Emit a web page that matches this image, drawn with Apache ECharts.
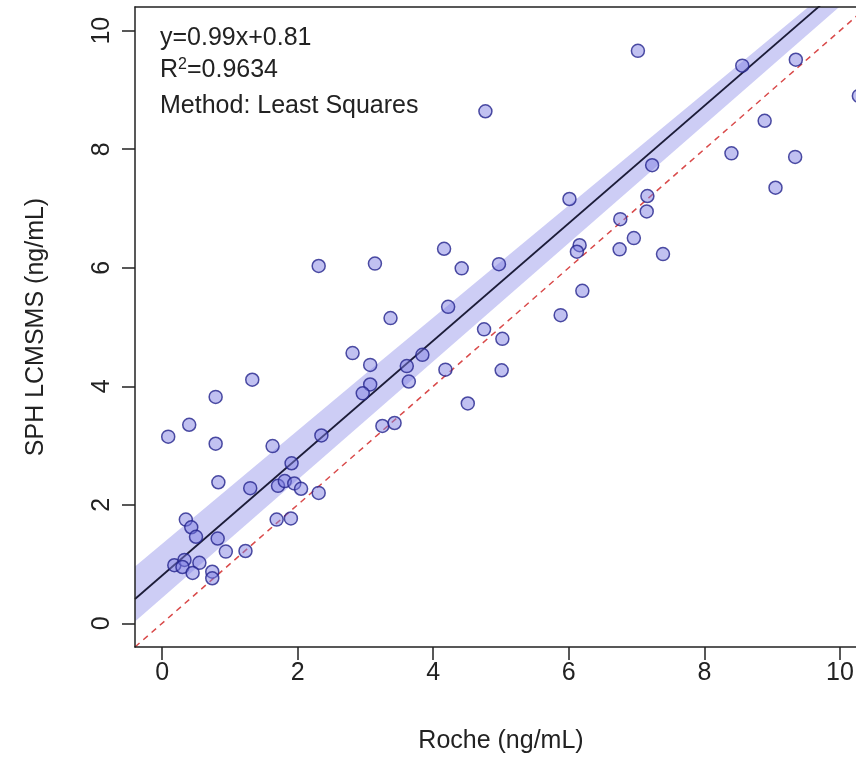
<!DOCTYPE html>
<html><head><meta charset="utf-8">
<script src="https://cdn.jsdelivr.net/npm/echarts@6/dist/echarts.min.js"></script>
<style>html,body{margin:0;padding:0;background:#fff;overflow:hidden}#c{width:856px;height:772px}</style>
</head><body><div id="c"></div>
<script>
const rocheX = [0.09,0.40,0.79,1.33,0.79,1.63,2.35,1.91,0.83,1.30,1.71,1.81,1.95,2.05,2.31,1.69,1.90,0.35,0.43,0.50,0.82,0.94,1.23,0.18,0.33,0.30,0.55,0.45,0.74,0.74,
  2.31,3.14,3.37,2.81,3.07,3.07,2.96,3.61,3.84,3.64,3.25,3.43,
  4.16,4.42,4.97,4.22,4.75,5.02,4.18,5.01,4.51,
  5.88,6.20,6.16,6.12,6.96,6.75,7.39,6.76,7.15,7.16,6.01,7.23,
  4.77,7.02,8.56,9.35,8.89,8.40,9.34,9.05,10.28];
const lcmsY = [3.15,3.35,3.82,4.11,3.03,2.99,3.17,2.70,2.38,2.28,2.32,2.40,2.36,2.27,2.20,1.75,1.77,1.75,1.62,1.46,1.43,1.21,1.22,0.98,1.07,0.95,1.02,0.85,0.87,0.76,
  6.03,6.07,5.15,4.56,4.36,4.03,3.88,4.34,4.53,4.08,3.33,3.38,
  6.32,5.99,6.06,5.34,4.96,4.80,4.28,4.27,3.71,
  5.20,5.61,6.38,6.27,6.50,6.31,6.23,6.82,6.95,7.21,7.16,7.73,
  8.64,9.66,9.41,9.51,8.48,7.93,7.87,7.35,8.90];
const xTicks = [0,2,4,6,8,10];
const yTicks = [0,2,4,6,8,10];
const axisRange = [-0.4, 10.4];
const fitX = [-0.4, 10.4];
const fitY = [0.41, 11.11];
const identX = [-0.4, 10.4];
const identY = [-0.4, 10.4];
const bandX = [-0.4, 3.2, 10.4];
const bandLo = [0.03, 3.62, 10.81];
const bandHi = [0.96, 4.40, 11.22];
const eqText = 'y=0.99x+0.81';
const r2Value = '=0.9634';
const methodText = 'Method: Least Squares';
const xName = 'Roche (ng/mL)';
const yName = 'SPH LCMSMS (ng/mL)';

const FONT = "'Liberation Sans', Arial, sans-serif";
const FS = 25;
const chart = echarts.init(document.getElementById('c'), null, {renderer:'canvas'});
const pts = rocheX.map((x,i)=>[x, lcmsY[i]]);
const lineSt = {color:'#222', width:1.5};
const option = {
  animation:false,
  backgroundColor:'#fff',
  grid:{left:135, top:7, width:732, height:640, containLabel:false, outerBoundsMode:'none', show:false},
  xAxis:[{type:'value', min:axisRange[0], max:axisRange[1], position:'bottom', z:10,
    splitLine:{show:false}, axisLine:{show:true, onZero:false, lineStyle:lineSt},
    axisTick:{show:true, inside:false, length:13, customValues:xTicks, lineStyle:lineSt},
    axisLabel:{customValues:xTicks, margin:14, fontSize:FS, color:'#222', fontFamily:FONT},
    name:xName, nameLocation:'middle', nameGap:82, nameTextStyle:{fontSize:FS, color:'#222', fontFamily:FONT}},
    {type:'value', min:axisRange[0], max:axisRange[1], position:'top', z:10,
    splitLine:{show:false}, axisLine:{show:true, onZero:false, lineStyle:lineSt},
    axisTick:{show:false}, axisLabel:{show:false}}],
  yAxis:{type:'value', min:axisRange[0], max:axisRange[1], z:10,
    splitLine:{show:false}, axisLine:{show:true, onZero:false, lineStyle:lineSt},
    axisTick:{show:true, inside:false, length:13, customValues:yTicks, lineStyle:lineSt},
    axisLabel:{customValues:yTicks, rotate:90, margin:20, fontSize:FS, color:'#222', fontFamily:FONT},
    name:yName, nameLocation:'middle', nameGap:86, nameTextStyle:{fontSize:FS, color:'#222', fontFamily:FONT}},
  series:[
    {type:'custom', silent:true, z:1, data:[[bandX[0], bandLo[0]]],
      renderItem:function(params, api){
        const p = [];
        for (let i=0;i<bandX.length;i++) p.push(api.coord([bandX[i], bandHi[i]]));
        for (let i=bandX.length-1;i>=0;i--) p.push(api.coord([bandX[i], bandLo[i]]));
        const cs = params.coordSys;
        return {type:'polygon', shape:{points:p}, style:{fill:'#cdcdf5'},
          clipPath:{type:'rect', shape:{x:cs.x, y:cs.y, width:cs.width, height:cs.height}}};
      }},
    {type:'line', z:2, silent:true, symbol:'none', clip:true,
      data:identX.map((x,i)=>[x, identY[i]]),
      lineStyle:{color:'#d94a4a', width:1.5, type:[6,5]}},
    {type:'line', z:3, silent:true, symbol:'none', clip:true,
      data:fitX.map((x,i)=>[x, fitY[i]]),
      lineStyle:{color:'#1c1c38', width:1.8}},
    {type:'scatter', z:4, clip:true, symbol:'circle', symbolSize:13, data:pts,
      itemStyle:{color:'rgba(125,125,225,0.6)', borderColor:'#23238c', borderWidth:1.5}}
  ],
  graphic:[
    {type:'text', left:160, top:26, z:20, style:{text:eqText, font:FS+'px '+FONT, fill:'#222'}},
    {type:'text', left:160, top:57, z:20, style:{text:'{a|R}{s|2}{a|'+r2Value+'}', fill:'#222',
      rich:{a:{fontSize:FS, fontFamily:FONT, color:'#222', verticalAlign:'bottom'}, s:{fontSize:16, fontFamily:FONT, color:'#222', verticalAlign:'top', padding:[0,0,10,0]}}}},
    {type:'text', left:160, top:94, z:20, style:{text:methodText, font:FS+'px '+FONT, fill:'#222'}}
  ]
};
chart.setOption(option);
</script></body></html>
